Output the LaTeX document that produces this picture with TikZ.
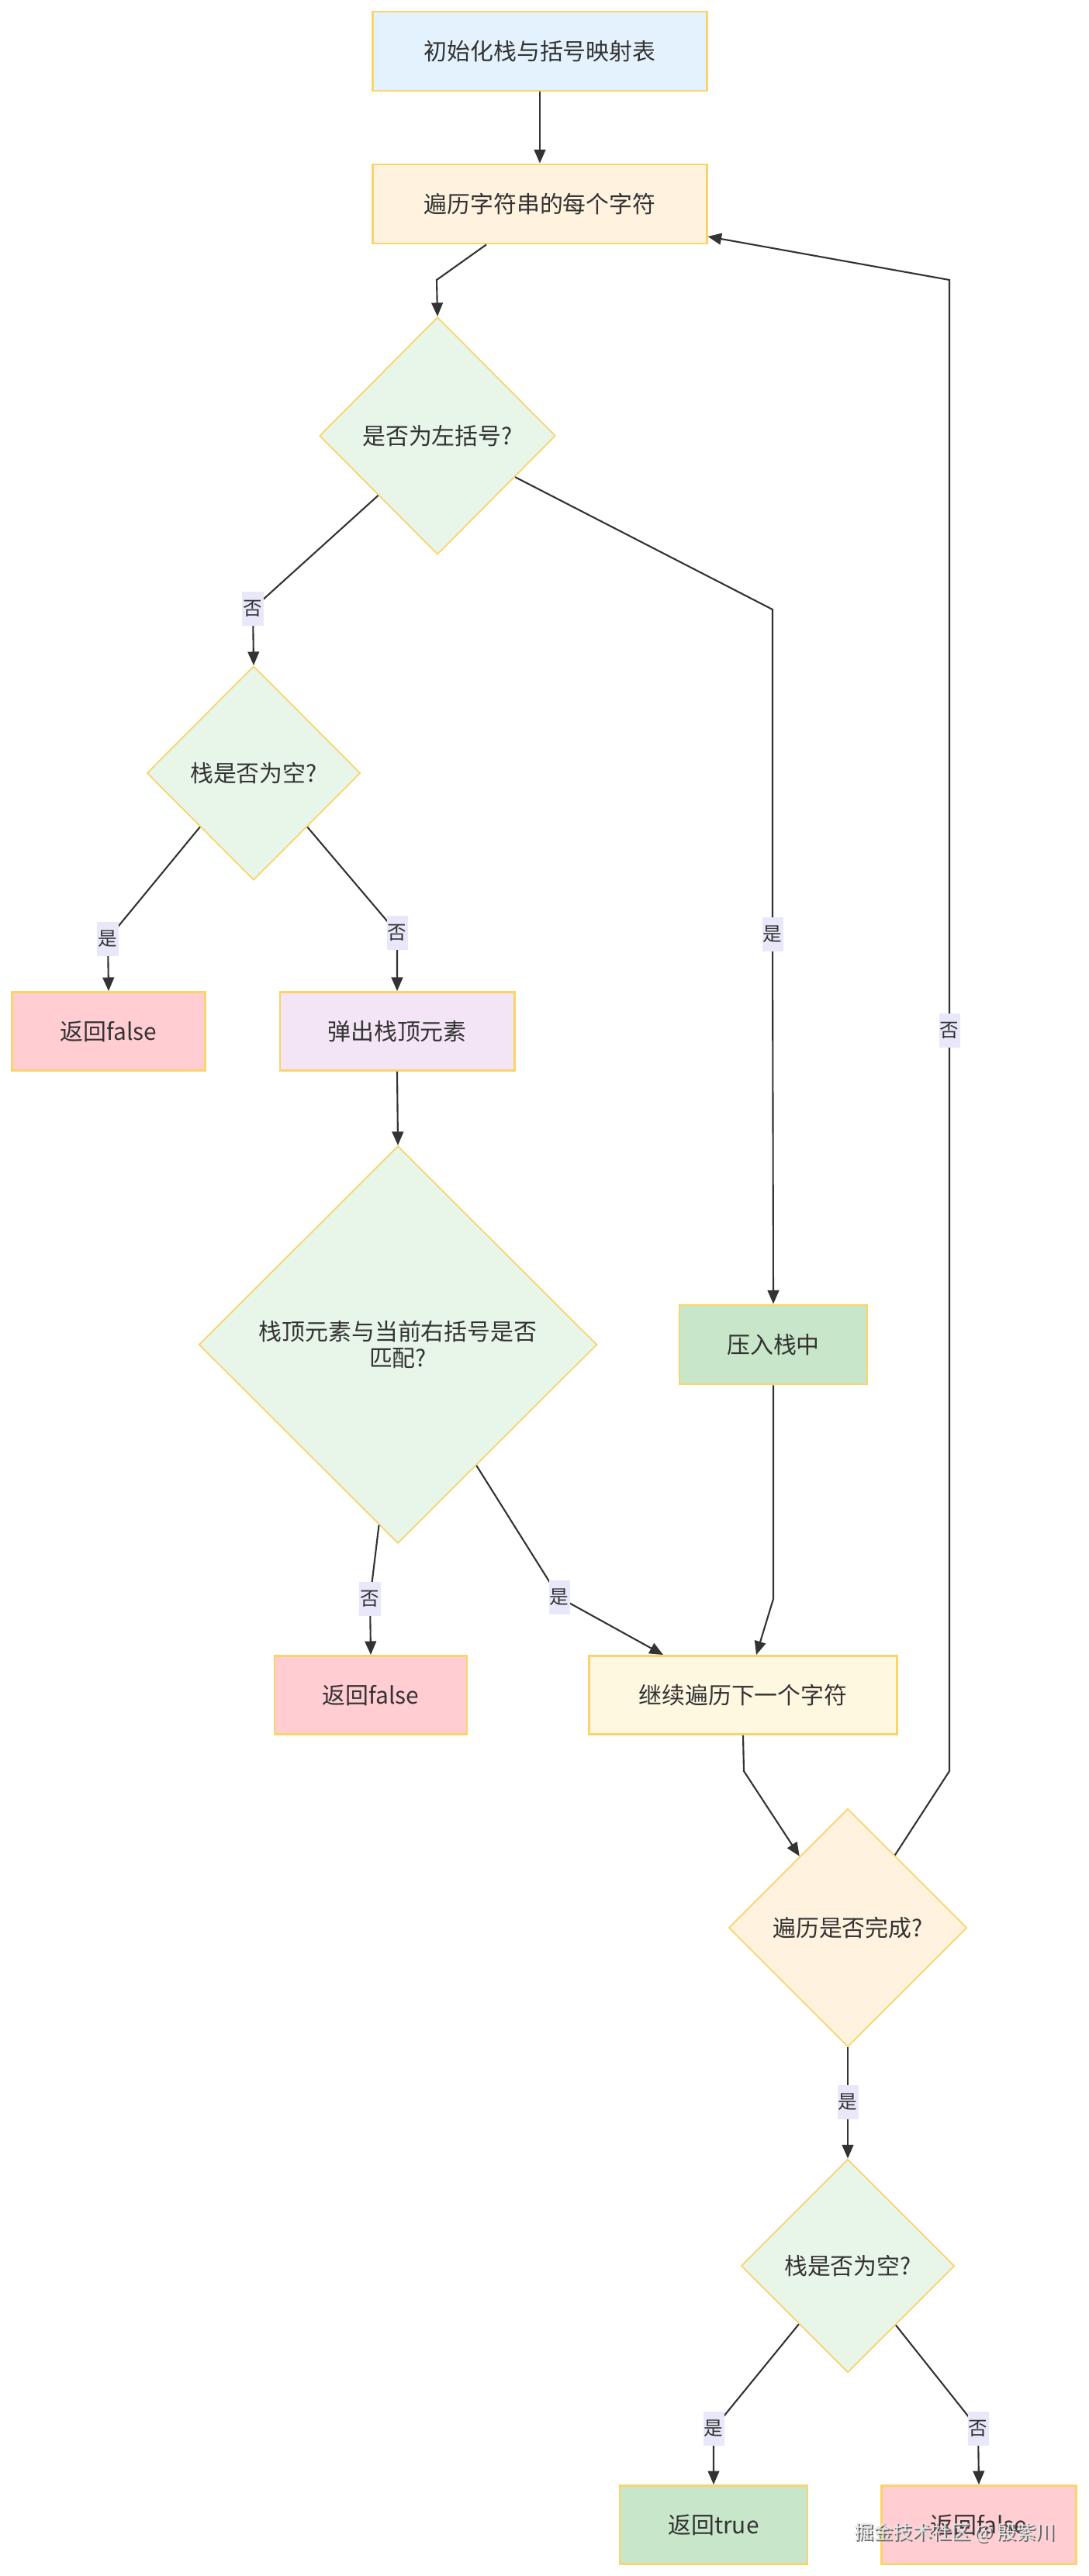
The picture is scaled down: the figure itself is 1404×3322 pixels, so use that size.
\documentclass[tikz,border=0pt]{standalone}
\usepackage{fontspec}
\setmainfont{Noto Sans CJK SC}
\usepackage{xcolor}
\usepackage{tikz}
\usetikzlibrary{calc}
\usetikzlibrary{shapes.geometric}
\usetikzlibrary{arrows.meta}
\definecolor{edgegray}{HTML}{333333}
\definecolor{textgray}{HTML}{333333}
\definecolor{bordergold}{HTML}{FAD46A}
\definecolor{labelbg}{HTML}{E8E8FA}
\definecolor{initblue}{HTML}{E3F2FD}
\definecolor{loopcream}{HTML}{FFF3E0}
\definecolor{askgreen}{HTML}{E8F5E9}
\definecolor{failpink}{HTML}{FFCDD2}
\definecolor{poplilac}{HTML}{F3E5F5}
\definecolor{pushgreen}{HTML}{C8E6C9}
\definecolor{nextcream}{HTML}{FFF8E1}
\tikzset{
	myboxstyle/.style={draw=bordergold, line width=0.8pt, minimum height=1.01cm, inner sep=0pt, text=textgray, font=\fontsize{8.5}{9.4}\selectfont, align=center},
	mydiamondstyle/.style={myboxstyle, diamond, aspect=1, line width=0.5pt},
	mylabelstyle/.style={fill=labelbg, inner sep=0pt, minimum width=0.27cm, minimum height=0.44cm, text=textgray, font=\fontsize{7}{8}\selectfont},
	myedgestyle/.style={->, draw=edgegray, line width=0.6pt},
}

\begin{document}
\begin{tikzpicture}[x=0.01cm, y=-0.01cm, >={Triangle[length=5pt,width=4.2pt]}]
	\useasboundingbox (0,0) rectangle (1404,3322);
	\node[myboxstyle, fill=initblue, minimum width=4.30cm, minimum height=1.02cm] (init) at (696,66) {初始化栈与括号映射表};
	\node[myboxstyle, fill=loopcream, minimum width=4.30cm, minimum height=1.02cm] (trav) at (696,263) {遍历字符串的每个字符};
	\node[mydiamondstyle, fill=askgreen, minimum width=3.04cm, minimum height=3.06cm] (d1) at (564,562) {是否为左括号?};
	\node[mydiamondstyle, fill=askgreen, minimum width=2.75cm, minimum height=2.76cm] (d2) at (327,997) {栈是否为空?};
	\node[myboxstyle, fill=failpink, minimum width=2.49cm] (rf1) at (140,1330) {返回false};
	\node[myboxstyle, fill=poplilac, minimum width=3.02cm] (pop) at (512,1330) {弹出栈顶元素};
	\node[mydiamondstyle, fill=askgreen, minimum width=5.13cm, minimum height=5.12cm] (d3) at (513,1734) {栈顶元素与当前右括号是否\\匹配?};
	\node[myboxstyle, fill=pushgreen, minimum width=2.42cm, minimum height=1.02cm] (push) at (997,1734) {压入栈中};
	\node[myboxstyle, fill=failpink, minimum width=2.48cm] (rf2) at (478,2186) {返回false};
	\node[myboxstyle, fill=nextcream, minimum width=3.97cm] (cont) at (958,2186) {继续遍历下一个字符};
	\node[mydiamondstyle, fill=loopcream, minimum width=3.07cm, minimum height=3.07cm] (d4) at (1093,2486) {遍历是否完成?};
	\node[mydiamondstyle, fill=askgreen, minimum width=2.75cm, minimum height=2.75cm] (d5) at (1093,2922) {栈是否为空?};
	\node[myboxstyle, fill=pushgreen, minimum width=2.42cm] (rt) at (920,3256) {返回true};
	\node[myboxstyle, fill=failpink, minimum width=2.51cm] (rf3) at (1262,3256) {返回false};
	\draw[myedgestyle] (init.south) -- (trav.north);
	\draw[myedgestyle] ($(trav.south)+(-69,0)$) -- (563,361) -- (d1.north);
	\draw[myedgestyle] (d1.south west) -- (326,785) node[mylabelstyle] (lno1) {否} -- (d2.north);
	\draw[myedgestyle] (d1.-28) -- (996,786) -- (996,1205) node[mylabelstyle] (lyes1) {是} -- (push.north);
	\draw[myedgestyle] (d2.south west) -- (139,1211) node[mylabelstyle] (lyes2) {是} -- (rf1.north);
	\draw[myedgestyle] (d2.south east) -- (512,1203) node[mylabelstyle] (lno2) {否} -- (pop.north);
	\draw[myedgestyle] (pop.south) -- (d3.north);
	\draw[myedgestyle] (d3.-96) -- (477,2062) node[mylabelstyle] (lno3) {否} -- (rf2.north);
	\draw[myedgestyle] (d3.-57) -- (721,2060) node[mylabelstyle] (lyes3) {是} -- ($(cont.north)+(-103,0)$);
	\draw[myedgestyle] (push.south) -- (997,2062) -- ($(cont.north)+(17,0)$);
	\draw[myedgestyle] (cont.south) -- (959,2284) -- (d4.124);
	\draw[myedgestyle] (d4.57) -- (1224,2284) -- (1224,1329) node[mylabelstyle] (lno4) {否} -- (1224,361) -- ($(trav.east)+(0,42)$);
	\draw[myedgestyle] (d4.south) -- (1093,2711) node[mylabelstyle] (lyes4) {是} -- (d5.north);
	\draw[myedgestyle] (d5.-130) -- (920,3132) node[mylabelstyle] (lyes5) {是} -- (rt.north);
	\draw[myedgestyle] (d5.-51) -- (1261,3132) node[mylabelstyle] (lno5) {否} -- (rf3.north);
	\node[text=black!60, font=\fontsize{7.1}{8}\selectfont] (wmshade) at (1233,3268) {掘金技术社区 @ 殷紫川};
	\node[text=white!90!black, font=\fontsize{7.1}{8}\selectfont] (wm) at (1231,3266) {掘金技术社区 @ 殷紫川};
\end{tikzpicture}
\end{document}
